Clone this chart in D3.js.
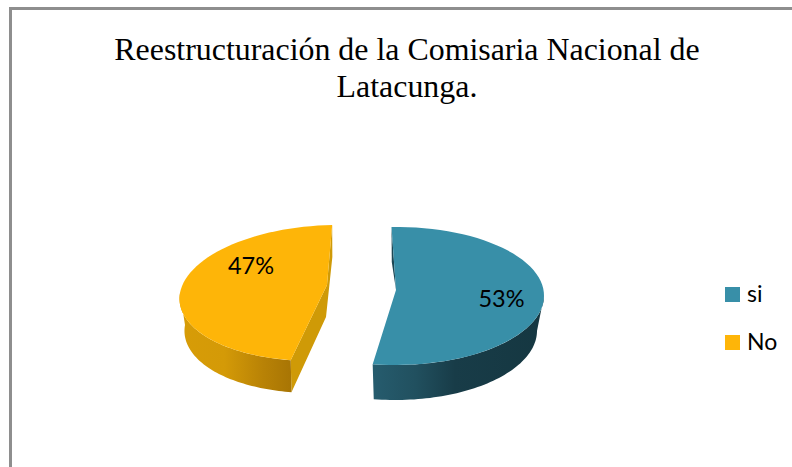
<!DOCTYPE html>
<meta charset="utf-8">
<style>
  html, body { margin: 0; padding: 0; background: #fff; }
  svg { display: block; }
</style>
<svg width="792" height="467"></svg>

<script src="https://d3js.org/d3.v7.min.js"></script>
<script>

var titleLines = ["Reestructuración de la Comisaria Nacional de", "Latacunga."];
var categories = ["si", "No"];
var values = [53, 47];
var colors = ["#388fa8", "#feb508"];

var svg = d3.select("svg");
var defs = svg.append("defs");

// chart frame, only the top and left sides are in the picture
svg.append("path")
  .attr("d", "M10.5,467V8.5H792")
  .attr("fill", "none")
  .attr("stroke", "#8e8e8e")
  .attr("stroke-width", 3);

svg.selectAll("text.title")
  .data(titleLines)
  .enter().append("text")
  .attr("class", "title")
  .attr("x", 407)
  .attr("y", function(d, i) { return 60 + i * 37; })
  .attr("text-anchor", "middle")
  .attr("font-family", "Liberation Serif")
  .attr("font-size", 31.9)
  .attr("fill", "#000")
  .text(function(d) { return d; });

// each slice is its own tilted disc because the pie is exploded in perspective
var slices = [
  { cx: 396, top: 296, bottom: 331, rx: 148, rxb: 141, ry: 69, skew: -0.01,
    stops: [["0%", "#265c6e"], ["25%", "#21505f"], ["48%", "#183c48"], ["100%", "#153741"]] },
  { cx: 325, top: 293, bottom: 325, rx: 145, rxb: 140, ry: 68, skew: -0.18,
    stops: [["0%", "#d79c07"], ["40%", "#d49a07"], ["75%", "#b88206"], ["100%", "#a87504"]] }
];

var pie = d3.pie().sort(null)
  .startAngle(-2 * Math.PI / 180)
  .endAngle(358 * Math.PI / 180);
var arcs = pie(values);
var line = d3.line();

function point(s, t, lower) {
  var rx = lower ? s.rxb : s.rx;
  var dy = -s.ry * Math.cos(t);
  return [s.cx + rx * Math.sin(t) + s.skew * dy, (lower ? s.bottom : s.top) + dy];
}

function arcPoints(s, a, b, lower) {
  return d3.range(0, 61).map(function(i) {
    return point(s, a + (b - a) * i / 60, lower);
  });
}

var wallRange = [[Math.PI / 2, arcs[0].endAngle], [arcs[1].startAngle, 3 * Math.PI / 2]];
var apex = [[396, 290], [327, 285]];
var apexLow = [[396, 320], [326, 317]];

slices.forEach(function(s, i) {
  var g = svg.append("g");
  var a = arcs[i];
  var grad = defs.append("linearGradient").attr("id", "wall" + i)
    .attr("x1", 0).attr("x2", 1).attr("y1", 0).attr("y2", 0);
  s.stops.forEach(function(d) {
    grad.append("stop").attr("offset", d[0]).attr("stop-color", d[1]);
  });

  // cut faces
  var faces = i == 0
    ? [point(s, a.startAngle, false), point(s, a.startAngle, true), apex[0]]
    : [point(s, a.endAngle, false), point(s, a.endAngle, true), apexLow[1],
       point(s, a.startAngle, true), point(s, a.startAngle, false), apex[1]];
  g.append("path")
    .attr("d", line(faces) + "Z")
    .attr("fill", i == 0 ? "#1c4754" : "#cf9a07");

  // outer wall
  var w = wallRange[i];
  g.append("path")
    .attr("d", line(arcPoints(s, w[0], w[1], false).concat(arcPoints(s, w[1], w[0], true))) + "Z")
    .attr("fill", "url(#wall" + i + ")");

  // top surface
  g.append("path")
    .attr("d", line([apex[i]].concat(arcPoints(s, a.startAngle, a.endAngle, false))) + "Z")
    .attr("fill", colors[i]);
});

var percentLabels = [[501.5, 307], [251, 274]];
values.forEach(function(v, i) {
  svg.append("text")
    .attr("x", percentLabels[i][0])
    .attr("y", percentLabels[i][1])
    .attr("text-anchor", "middle")
    .attr("font-family", "Lato")
    .attr("font-size", 23.5)
    .attr("fill", "#000")
    .text(v + "%");
});

var legend = svg.selectAll("g.legend")
  .data(categories)
  .enter().append("g")
  .attr("class", "legend")
  .attr("transform", function(d, i) { return "translate(725," + (287 + i * 48) + ")"; });

legend.append("rect")
  .attr("width", 15)
  .attr("height", 15)
  .attr("fill", function(d, i) { return colors[i]; });

legend.append("text")
  .attr("x", 22)
  .attr("y", 15)
  .attr("font-family", "Lato")
  .attr("font-size", 23)
  .attr("fill", "#000")
  .text(function(d) { return d; });

</script>
